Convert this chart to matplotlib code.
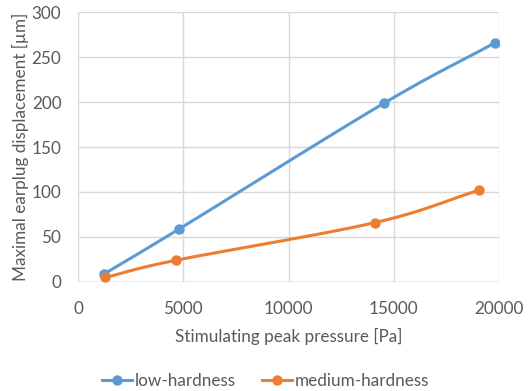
import numpy as np
import matplotlib
matplotlib.use("Agg")
import matplotlib.pyplot as plt

low_x = [1250, 4810, 14550, 19810]
low_y = [9, 59, 199, 266]
med_x = [1300, 4640, 14110, 19050]
med_y = [5, 24, 66, 102]

labels = ["low-hardness", "medium-hardness"]
colors = ["#5B9BD5", "#ED7D31"]


def smooth(xs, ys, n=30):
    # catmull-rom style smoothing, similar to Excel smoothed lines
    xs = np.asarray(xs, float)
    ys = np.asarray(ys, float)
    px = np.concatenate([[2 * xs[0] - xs[1]], xs, [2 * xs[-1] - xs[-2]]])
    py = np.concatenate([[2 * ys[0] - ys[1]], ys, [2 * ys[-1] - ys[-2]]])
    outx, outy = [], []
    t = np.linspace(0, 1, n)
    for i in range(1, len(px) - 2):
        for arr, out in ((px, outx), (py, outy)):
            p0, p1, p2, p3 = arr[i - 1], arr[i], arr[i + 1], arr[i + 2]
            c1 = p1 + (p2 - p0) / 6
            c2 = p2 - (p3 - p1) / 6
            b = ((1 - t) ** 3 * p1 + 3 * (1 - t) ** 2 * t * c1
                 + 3 * (1 - t) * t ** 2 * c2 + t ** 3 * p2)
            out.extend(b)
    return outx, outy


plt.rcParams['font.family'] = ['Lato', 'DejaVu Sans']
text_col = "#595959"
fs = 12.3

fig = plt.figure(figsize=(5.31, 3.91), dpi=100)
ax = fig.add_axes([0.147, 0.279, 0.793, 0.690])

handles = []
for xs, ys, lab, c in ((low_x, low_y, labels[0], colors[0]),
                       (med_x, med_y, labels[1], colors[1])):
    sx, sy = smooth(xs, ys)
    ax.plot(sx, sy, color=c, lw=2.2, solid_capstyle='round', zorder=3)
    ax.plot(xs, ys, 'o', color=c, ms=6.5, zorder=4)
    h, = ax.plot([], [], '-o', color=c, lw=2.2, ms=6.5, label=lab)
    handles.append(h)

ax.set_xlim(0, 20000)
ax.set_ylim(0, 300)
ax.set_xticks([0, 5000, 10000, 15000, 20000])
ax.set_yticks([0, 50, 100, 150, 200, 250, 300])
ax.grid(True, color="#d9d9d9", lw=1)
ax.set_axisbelow(True)
for s in ax.spines.values():
    s.set_visible(False)
ax.axhline(0, color="#bfbfbf", lw=1, zorder=2)
ax.tick_params(length=0, labelsize=fs, colors=text_col)
ax.tick_params(axis='x', pad=14)
ax.tick_params(axis='y', pad=12)

ax.set_xlabel("Stimulating peak pressure [Pa]", fontsize=fs, color=text_col, labelpad=8)
ax.set_ylabel("Maximal earplug displacement [µm]", fontsize=fs, color=text_col, labelpad=2)

fig.legend(handles=handles, loc='lower center', bbox_to_anchor=(0.5, -0.035), ncol=2,
           frameon=False, fontsize=fs, labelcolor=text_col, handlelength=1.75,
           handletextpad=0.2, columnspacing=1.5)

fig.savefig("out.png", dpi=100)
